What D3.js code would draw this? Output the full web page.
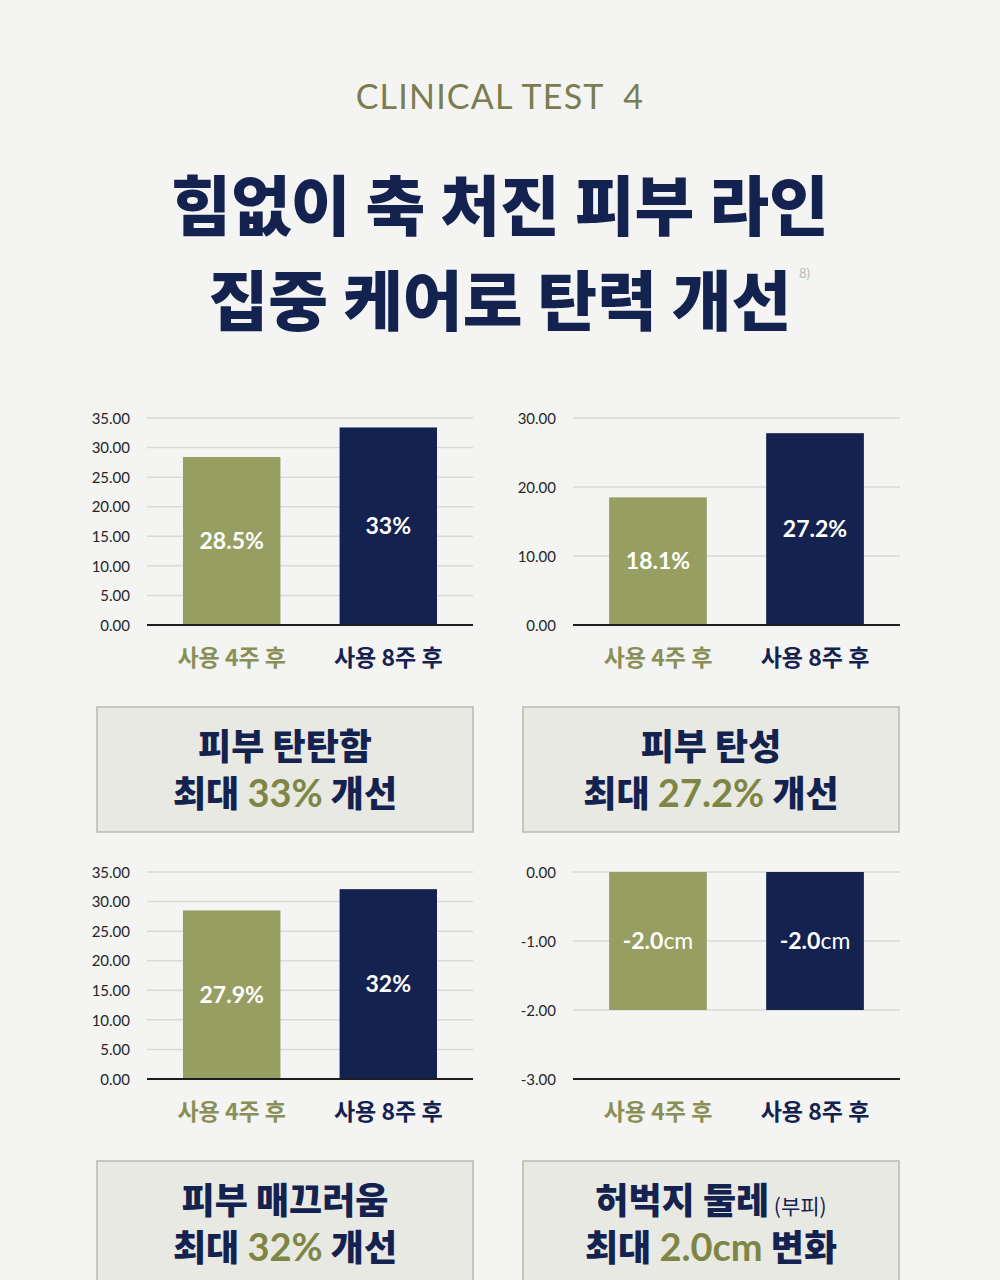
<!DOCTYPE html>
<html>
<head>
<meta charset="utf-8">
<script src="https://cdn.jsdelivr.net/npm/d3@7"></script>
<style>
  body { margin: 0; background: #f4f4f3; }
  svg { display: block; }
</style>
</head>
<body>
<div id="chart"></div>
<script>
// data
const groups = ["사용 4주 후", "사용 8주 후"];

const firmnessValues = [28.4, 33.4];
const firmnessLabels = ["28.5%", "33%"];
const firmnessTicks = [0, 5, 10, 15, 20, 25, 30, 35];

const elasticityValues = [18.5, 27.8];
const elasticityLabels = ["18.1%", "27.2%"];
const elasticityTicks = [0, 10, 20, 30];

const smoothnessValues = [28.5, 32.1];
const smoothnessLabels = ["27.9%", "32%"];
const smoothnessTicks = [0, 5, 10, 15, 20, 25, 30, 35];

const thighValues = [-2.0, -2.0];
const thighLabels = ["-2.0", "-2.0"];
const thighTicks = [-3, -2, -1, 0];

const green = "#979e61";
const navy = "#14224f";
const colors = [green, navy];
const labelColors = ["#899057", navy];
const accent = "#7d8644";

const W = 1000, H = 1280;
const svg = d3.select("#chart").append("svg").attr("width", W).attr("height", H);
svg.append("rect").attr("width", W).attr("height", H).attr("fill", "#f4f4f3");

const krFont = "'Noto Sans CJK KR', 'Noto Sans', sans-serif";
const numFont = "'Lato', 'Noto Sans', sans-serif";

// header
svg.append("text")
  .attr("x", 500).attr("y", 109)
  .attr("text-anchor", "middle")
  .style("font-family", numFont)
  .style("font-size", "34px")
  .style("letter-spacing", "1.2px")
  .attr("fill", "#7b7c50")
  .attr("xml:space", "preserve")
  .text("CLINICAL TEST  4");

const titleLines = ["힘없이 축 처진 피부 라인", "집중 케어로 탄력 개선"];
titleLines.forEach((t, i) => {
  svg.append("text")
    .attr("x", 500).attr("y", 230 + i * 95)
    .attr("text-anchor", "middle")
    .style("font-family", krFont)
    .style("font-weight", 900)
    .style("font-size", "65px")
    .attr("fill", navy)
    .text(t);
});
svg.append("text")
  .attr("x", 799).attr("y", 278)
  .style("font-family", numFont)
  .style("font-size", "13px")
  .attr("fill", "#b9b9b9")
  .text("8)");

const fmt = d => d3.format(".2f")(d).replace("−", "-");

function barPanel(opt) {
  const x = d3.scaleBand().domain(groups)
    .range([opt.left, opt.right])
    .paddingInner(0.378).paddingOuter(0.23);
  const y = d3.scaleLinear().domain(opt.domain).range([opt.bottom, opt.top]);
  const g = svg.append("g");

  // grid
  g.selectAll("line.grid").data(opt.ticks.filter(t => t !== opt.domain[0]))
    .join("line")
    .attr("x1", opt.left).attr("x2", opt.right)
    .attr("y1", d => y(d)).attr("y2", d => y(d))
    .attr("stroke", "#d9d9d5").attr("stroke-width", 1.5);

  // y axis labels
  const axis = d3.axisLeft(y).tickValues(opt.ticks).tickFormat(fmt).tickSize(0).tickPadding(0);
  const ax = g.append("g").attr("transform", `translate(${opt.labelX},0)`).call(axis);
  ax.select(".domain").remove();
  ax.selectAll("text")
    .style("font-family", numFont)
    .style("font-size", "15px")
    .attr("fill", "#262626")
    .attr("dy", "0.35em");

  // bars
  const zero = 0;
  g.selectAll("rect.bar").data(opt.values)
    .join("rect")
    .attr("x", (d, i) => x(groups[i]))
    .attr("width", x.bandwidth())
    .attr("y", d => y(Math.max(d, zero)))
    .attr("height", d => Math.abs(y(d) - y(zero)))
    .attr("fill", (d, i) => colors[i]);

  // baseline
  g.append("line")
    .attr("x1", opt.left).attr("x2", opt.right)
    .attr("y1", y(opt.domain[0])).attr("y2", y(opt.domain[0]))
    .attr("stroke", "#1e1e1e").attr("stroke-width", 2);

  // value labels
  opt.values.forEach((d, i) => {
    const cy = (y(d) + y(zero)) / 2;
    const t = g.append("text")
      .attr("x", x(groups[i]) + x.bandwidth() / 2)
      .attr("y", cy + 8)
      .attr("text-anchor", "middle")
      .style("font-family", numFont)
      .style("font-size", "23px")
      .style("font-weight", 700)
      .attr("fill", "#ffffff");
    t.append("tspan").text(opt.labels[i]);
    if (opt.unit) t.append("tspan").style("font-weight", 400).text(opt.unit);
  });

  // category labels
  g.selectAll("text.cat").data(groups)
    .join("text")
    .attr("x", d => x(d) + x.bandwidth() / 2)
    .attr("y", opt.bottom + 41)
    .attr("text-anchor", "middle")
    .style("font-family", krFont)
    .style("font-size", "23px")
    .style("font-weight", 700)
    .attr("fill", (d, i) => labelColors[i])
    .text(d => d);
}

barPanel({ left: 147, right: 473, top: 418, bottom: 625, labelX: 130,
  domain: [0, 35], ticks: firmnessTicks, values: firmnessValues, labels: firmnessLabels });
barPanel({ left: 573, right: 900, top: 418, bottom: 625, labelX: 556,
  domain: [0, 30], ticks: elasticityTicks, values: elasticityValues, labels: elasticityLabels });
barPanel({ left: 147, right: 473, top: 872, bottom: 1079, labelX: 130,
  domain: [0, 35], ticks: smoothnessTicks, values: smoothnessValues, labels: smoothnessLabels });
barPanel({ left: 573, right: 900, top: 872, bottom: 1079, labelX: 556,
  domain: [-3, 0], ticks: thighTicks, values: thighValues, labels: thighLabels, unit: "cm" });

// summary boxes
const boxes = [
  { x: 97, y: 707, line1: ["피부 탄탄함"], line2: ["최대 ", "33%", " 개선"] },
  { x: 523, y: 707, line1: ["피부 탄성"], line2: ["최대 ", "27.2%", " 개선"] },
  { x: 97, y: 1161, line1: ["피부 매끄러움"], line2: ["최대 ", "32%", " 개선"] },
  { x: 523, y: 1161, line1: ["허벅지 둘레", " (부피)"], line2: ["최대 ", "2.0cm", " 변화"] }
];
boxes.forEach(b => {
  svg.append("rect")
    .attr("x", b.x).attr("y", b.y).attr("width", 376).attr("height", 125)
    .attr("fill", "#e9e9e4").attr("stroke", "#b9b9b0").attr("stroke-width", 1.5);
  const cx = b.x + 188;
  const t1 = svg.append("text").attr("x", cx).attr("y", b.y + 53)
    .attr("text-anchor", "middle")
    .style("font-family", krFont).style("font-size", "36px").style("font-weight", 900)
    .attr("fill", navy);
  t1.append("tspan").text(b.line1[0]);
  if (b.line1[1]) t1.append("tspan").style("font-size", "21px").style("font-weight", 400).text(b.line1[1]);
  const t2 = svg.append("text").attr("x", cx).attr("y", b.y + 100)
    .attr("text-anchor", "middle")
    .style("font-family", krFont).style("font-size", "36px").style("font-weight", 900)
    .attr("fill", navy)
    .attr("xml:space", "preserve");
  t2.append("tspan").text(b.line2[0]);
  t2.append("tspan").attr("fill", accent).style("font-family", "'Lato', " + krFont)
    .style("font-size", "38px").style("font-weight", 700).text(b.line2[1]);
  t2.append("tspan").text(b.line2[2]);
});
</script>
</body>
</html>
